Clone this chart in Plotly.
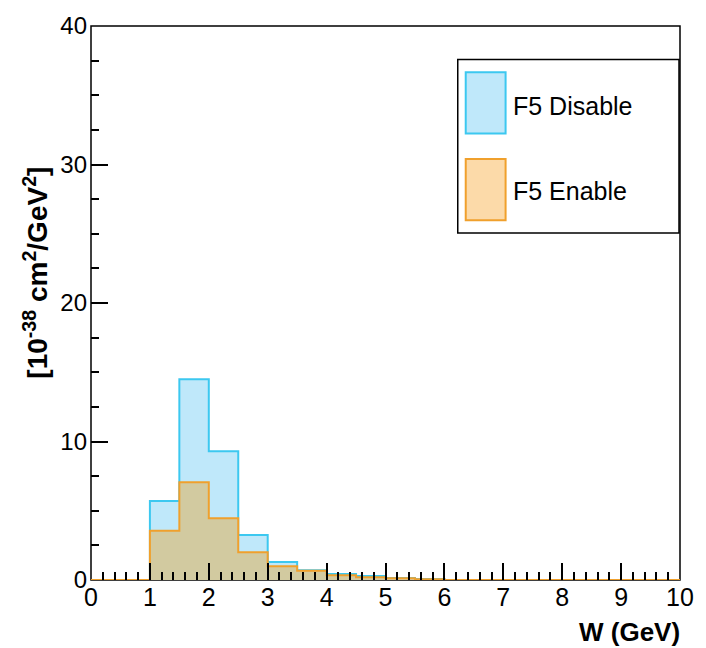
import plotly.graph_objects as go

# ---- data ----
bin_edges = [i * 0.5 for i in range(21)]  # 0 .. 10 GeV, 0.5 GeV bins
f5_disable = [0, 0, 5.7, 14.5, 9.3, 3.25, 1.3, 0.7, 0.43, 0.28, 0.15, 0.07,
              0, 0, 0, 0, 0, 0, 0, 0]
f5_enable = [0, 0, 3.55, 7.05, 4.45, 2.0, 1.0, 0.66, 0.35, 0.19, 0.12, 0.05,
             0, 0, 0, 0, 0, 0, 0, 0]
series_names = ["F5 Disable", "F5 Enable"]
x_ticks = list(range(0, 11))
y_ticks = [0, 10, 20, 30, 40]

BLUE_FILL = "#bfe8fa"
BLUE_LINE = "#3cc8f0"
ORANGE_FILL_OVER = "#d2caa0"
ORANGE_FILL = "#fcdaa9"
ORANGE_LINE = "#f0a02c"

def step(vals):
    xs = bin_edges[:]
    ys = list(vals) + [vals[-1]]
    return xs, ys

fig = go.Figure()
xb, yb = step(f5_disable)
fig.add_trace(go.Scatter(x=xb, y=yb, mode="lines", line=dict(shape="hv", color=BLUE_LINE, width=2),
                         fill="tozeroy", fillcolor=BLUE_FILL, showlegend=False, name=series_names[0]))
xo, yo = step(f5_enable)
fig.add_trace(go.Scatter(x=xo, y=yo, mode="lines", line=dict(shape="hv", color=ORANGE_LINE, width=2),
                         fill="tozeroy", fillcolor=ORANGE_FILL_OVER, showlegend=False, name=series_names[1]))

W, H = 706, 648
L, R, T, B = 91, 682, 18, 580

def px(x):
    return (x - L) / (R - L)

def py(y):
    return (B - y) / (B - T)

font_main = "Liberation Sans, Arial, Helvetica, sans-serif"

shapes = [
    # frame
    dict(type="rect", xref="paper", yref="paper", x0=0, x1=1, y0=0, y1=1,
         line=dict(color="black", width=1.5), fillcolor="rgba(0,0,0,0)", layer="below"),
    # legend box
    dict(type="rect", xref="paper", yref="paper", x0=px(459), x1=px(681), y0=py(228), y1=py(52),
         line=dict(color="black", width=1.5), fillcolor="white", layer="above"),
    # legend swatches
    dict(type="rect", xref="paper", yref="paper", x0=px(467), x1=px(507), y0=py(127), y1=py(65),
         line=dict(color=BLUE_LINE, width=2), fillcolor=BLUE_FILL, layer="above"),
    dict(type="rect", xref="paper", yref="paper", x0=px(467), x1=px(507), y0=py(215), y1=py(153),
         line=dict(color=ORANGE_LINE, width=2), fillcolor=ORANGE_FILL, layer="above"),
]

annotations = [
    dict(text=series_names[0], xref="paper", yref="paper", x=px(512), y=py(99),
         xanchor="left", yanchor="middle", showarrow=False,
         font=dict(family=font_main, size=25, color="black")),
    dict(text=series_names[1], xref="paper", yref="paper", x=px(512), y=py(185),
         xanchor="left", yanchor="middle", showarrow=False,
         font=dict(family=font_main, size=25, color="black")),
    dict(text="<b>W (GeV)</b>", xref="paper", yref="paper", x=px(684), y=py(633),
         xanchor="right", yanchor="middle", showarrow=False,
         font=dict(family=font_main, size=26, color="black")),
    dict(text="<b>[10<sup>-38</sup> cm<sup>2</sup>/GeV<sup>2</sup>]</b>", xref="paper", yref="paper",
         x=px(36), y=py(268), xanchor="center", yanchor="middle", textangle=-90, showarrow=False,
         font=dict(family=font_main, size=28, color="black")),
]

fig.update_layout(
    width=W, height=H,
    margin=dict(l=L, r=W - R, t=T, b=H - B, pad=0),
    paper_bgcolor="white", plot_bgcolor="white",
    shapes=shapes, annotations=annotations,
    showlegend=False,
    font=dict(family=font_main, size=24, color="black"),
)
fig.update_xaxes(
    range=[0, 10], tickmode="array", tickvals=x_ticks, ticktext=[str(v) for v in x_ticks],
    ticks="inside", ticklen=17, tickwidth=1.5, tickcolor="black",
    showgrid=False, zeroline=False, showline=False,
    tickfont=dict(family=font_main, size=25, color="black"),
    minor=dict(ticks="inside", ticklen=8, tickwidth=1.5, tickcolor="black", dtick=0.2, tick0=0, showgrid=False),
    fixedrange=True,
)
fig.update_yaxes(
    range=[0, 40], tickmode="array", tickvals=y_ticks, ticktext=[str(v) for v in y_ticks],
    ticks="inside", ticklen=17, tickwidth=1.5, tickcolor="black",
    showgrid=False, zeroline=False, showline=False,
    tickfont=dict(family=font_main, size=24, color="black"),
    minor=dict(ticks="inside", ticklen=8, tickwidth=1.5, tickcolor="black", dtick=2.5, tick0=0, showgrid=False),
    ticklabelstandoff=3,
    fixedrange=True,
)

fig.write_html("out.html")
